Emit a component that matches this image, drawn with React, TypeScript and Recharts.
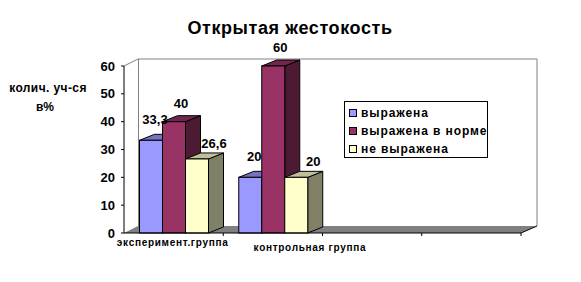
import React from "react";
import { BarChart, Bar, XAxis, YAxis, Legend, LabelList } from "recharts";

const categories = ["эксперимент.группа", "контрольная группа", " ", "  "];
const seriesNames = ["выражена", "выражена в норме", "не выражена"];
const vyrazhena = [33.3, 20, null, null];
const vNorme = [40, 60, null, null];
const neVyrazhena = [26.6, 20, null, null];
const yTicks = [0, 10, 20, 30, 40, 50, 60];

const data = categories.map((c, i) => ({
  cat: c,
  s1: vyrazhena[i],
  s2: vNorme[i],
  s3: neVyrazhena[i],
}));

const W = 581;
const H = 282;
const DX = 15;
const DY = -6;
const FONT = "'Liberation Sans', Arial, sans-serif";

const palette = [
  { front: "#9999FF", top: "#7373BF", side: "#5C5C99" },
  { front: "#993366", top: "#73264D", side: "#4D1A33" },
  { front: "#FFFFCC", top: "#BFBF99", side: "#808066" },
];
const labelDx = [4, 7, 17];
const labelDy = [-16, -14, -11];

const make3D = (p: { front: string; top: string; side: string }) => (props: any) => {
  const { x, y, width, height } = props;
  if (!height || height <= 0 || x == null) return <g />;
  return (
    <g>
      <polygon
        points={`${x + width},${y} ${x + width + DX},${y + DY} ${x + width + DX},${y + height + DY} ${x + width},${y + height}`}
        fill={p.side}
        stroke="#000"
        strokeWidth={1}
      />
      <polygon
        points={`${x},${y} ${x + DX},${y + DY} ${x + width + DX},${y + DY} ${x + width},${y}`}
        fill={p.top}
        stroke="#000"
        strokeWidth={1}
      />
      <rect x={x} y={y} width={width} height={height} fill={p.front} stroke="#000" strokeWidth={1} />
    </g>
  );
};

const makeLabel = (si: number) => (props: any) => {
  const { x, y, width, value } = props;
  if (value == null || x == null) return null;
  return (
    <text
      x={x + width / 2 + labelDx[si]}
      y={y + labelDy[si]}
      textAnchor="middle"
      fontFamily={FONT}
      fontWeight="bold"
      fontSize={13}
      fill="#000"
    >
      {String(value).replace(".", ",")}
    </text>
  );
};

const CatTick = (props: any) => {
  const { x, y, payload, index } = props;
  const off = payload && typeof payload.offset === "number" && payload.offset > 0 ? payload.offset : 49.6;
  const label = String(payload?.value ?? "").trim();
  const tx = index === 1 ? x + 37 : x - 1;
  const ty = index === 1 ? y + 18 : y + 13;
  return (
    <g>
      <line x1={x + off} y1={y} x2={x + off} y2={y + 3} stroke="#000" strokeWidth={1} />
      {label && (
        <text
          x={tx}
          y={ty}
          textAnchor="middle"
          fontFamily={FONT}
          fontWeight="bold"
          fontSize={10}
          letterSpacing={0.7}
          fill="#000"
        >
          {label}
        </text>
      )}
    </g>
  );
};

const LegendBox = (props: any) => {
  const payload = props.payload || [];
  return (
    <div
      style={{
        width: 142,
        height: 55,
        border: "1px solid #000",
        background: "#fff",
        boxSizing: "content-box",
        fontFamily: FONT,
        fontWeight: "bold",
        fontSize: 12,
        position: "relative",
      }}
    >
      {payload.map((e: any, i: number) => (
        <div
          key={i}
          style={{ position: "absolute", left: 4, top: 4 + i * 18, display: "flex", alignItems: "center", whiteSpace: "nowrap" }}
        >
          <span
            style={{
              display: "inline-block",
              width: 6,
              height: 6,
              border: "1px solid #000",
              background: palette[i].front,
              marginRight: 4,
            }}
          />
          <span style={{ lineHeight: "14px", letterSpacing: 0.9 }}>{e.value}</span>
        </div>
      ))}
    </div>
  );
};

export default function App() {
  return (
    <div style={{ position: "absolute", left: 0, top: 0, width: W, height: H, background: "#fff" }}>
      <svg width={W} height={H} style={{ position: "absolute", left: 0, top: 0 }}>
        <text
          x={290}
          y={34}
          textAnchor="middle"
          fontFamily={FONT}
          fontWeight="bold"
          fontSize={18}
          letterSpacing={0.6}
          fill="#000"
        >
          Открытая жестокость
        </text>
        <text x={48} y={92} textAnchor="middle" fontFamily={FONT} fontWeight="bold" fontSize={12} letterSpacing={0.4} fill="#000">
          колич. уч-ся
        </text>
        <text x={45} y={111} textAnchor="middle" fontFamily={FONT} fontWeight="bold" fontSize={12} fill="#000">
          в%
        </text>
        <polygon points="124,233 138,226 537,226 521,233" fill="#808080" />
        <polyline points="124,66 138,59 537,59 537,226" fill="none" stroke="#808080" strokeWidth={1} />
        <line x1={138.5} y1={59} x2={138.5} y2={226} stroke="#808080" strokeWidth={1} />
        <line x1={521} y1={233} x2={537} y2={226} stroke="#000" strokeWidth={1} />
      </svg>
      <div style={{ position: "absolute", left: 0, top: 0 }}>
        <BarChart
          width={W}
          height={H}
          data={data}
          margin={{ top: 66, right: 60, bottom: 19, left: 84 }}
          barCategoryGap={15.5}
          barGap={0}
        >
          <XAxis
            dataKey="cat"
            height={30}
            axisLine={{ stroke: "#000" }}
            tickLine={false}
            tickSize={0}
            tickMargin={0}
            interval={0}
            tick={<CatTick />}
          />
          <YAxis
            width={40}
            domain={[0, 60]}
            ticks={yTicks}
            interval={0}
            axisLine={{ stroke: "#000" }}
            tickLine={{ stroke: "#000" }}
            tickSize={3}
            tickMargin={6}
            tick={{ fill: "#000", fontFamily: FONT, fontWeight: "bold", fontSize: 13 }}
          />
          <Legend
            layout="vertical"
            align="center"
            verticalAlign="middle"
            content={<LegendBox />}
            wrapperStyle={{ left: 344, top: 101, width: 144, height: 57 }}
          />
          <Bar dataKey="s1" name={seriesNames[0]} fill={palette[0].front} shape={make3D(palette[0])} isAnimationActive={false}>
            <LabelList dataKey="s1" content={makeLabel(0)} />
          </Bar>
          <Bar dataKey="s2" name={seriesNames[1]} fill={palette[1].front} shape={make3D(palette[1])} isAnimationActive={false}>
            <LabelList dataKey="s2" content={makeLabel(1)} />
          </Bar>
          <Bar dataKey="s3" name={seriesNames[2]} fill={palette[2].front} shape={make3D(palette[2])} isAnimationActive={false}>
            <LabelList dataKey="s3" content={makeLabel(2)} />
          </Bar>
        </BarChart>
      </div>
    </div>
  );
}
